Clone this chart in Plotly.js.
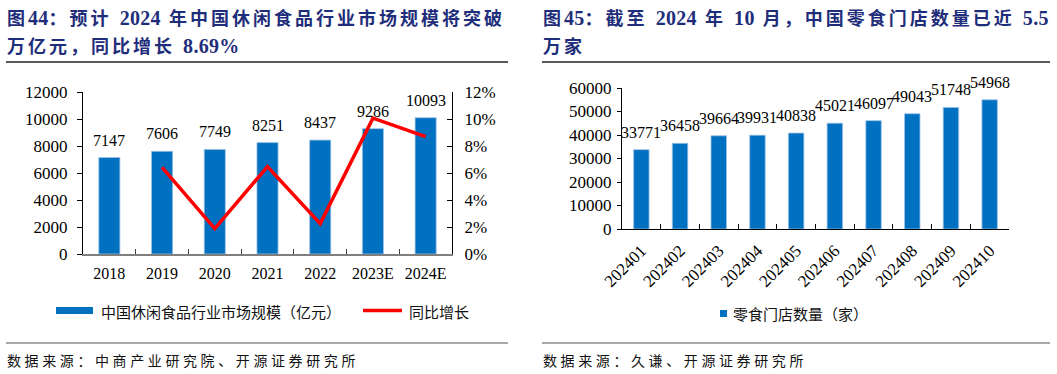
<!DOCTYPE html>
<html><head><meta charset="utf-8">
<script src="https://cdn.plot.ly/plotly-3.0.1.min.js"></script>
<style>
body{margin:0;background:#fff;}
#wrap{position:relative;width:1057px;height:374px;overflow:hidden;background:#fff;}
#chart{position:absolute;left:0;top:0;width:1057px;height:374px;}
.t{position:absolute;font-family:"Noto Sans CJK SC",sans-serif;font-weight:bold;color:#1F2E7A;font-size:18px;letter-spacing:3px;word-spacing:1px;white-space:pre;line-height:1;}
.t .n{font-family:"Liberation Serif",serif;font-size:20px;letter-spacing:0.3px;}
.s{position:absolute;font-family:"Noto Sans CJK SC",sans-serif;font-size:14px;letter-spacing:3.6px;white-space:pre;line-height:1;color:#111;}
</style></head>
<body>
<div id="wrap">
<div id="chart"></div>
<div class="t" id="t1a" style="left:7px;top:8px;"></div>
<div class="t" id="t1b" style="left:7px;top:36px;"></div>
<div class="t" id="t2a" style="left:543px;top:8px;"></div>
<div class="t" id="t2b" style="left:543px;top:36px;"></div>
<div class="s" id="s1" style="left:7px;top:353px;"></div>
<div class="s" id="s2" style="left:543px;top:353px;"></div>
</div>
<script>
// ---- data ----
const years = ['2018','2019','2020','2021','2022','2023E','2024E'];
const marketSize = [7147, 7606, 7749, 8251, 8437, 9286, 10093];
const growthYears = ['2019','2020','2021','2022','2023E','2024E'];
const yoyGrowth = [0.0642, 0.0188, 0.0648, 0.0225, 0.1006, 0.0869];
const months = ['202401','202402','202403','202404','202405','202406','202407','202408','202409','202410'];
const storeCount = [33771, 36458, 39664, 39931, 40838, 45021, 46097, 49043, 51748, 54968];
const seriesMarket = '中国休闲食品行业市场规模（亿元）';
const seriesGrowth = '同比增长';
const seriesStores = '零食门店数量（家）';
const title1 = ['图44：预计 2024 年中国休闲食品行业市场规模将突破', '万亿元，同比增长 8.69%'];
const title2 = ['图45：截至 2024 年 10 月，中国零食门店数量已近 5.5', '万家'];
const source1 = '数据来源：中商产业研究院、开源证券研究所';
const source2 = '数据来源：久谦、开源证券研究所';

function setTitle(id, txt) {
  const el = document.getElementById(id);
  txt.split(/([0-9.%]+)/).forEach(part => {
    if (!part) return;
    const sp = document.createElement('span');
    if (/^[0-9.%]+$/.test(part)) sp.className = 'n';
    sp.textContent = part;
    el.appendChild(sp);
  });
}
setTitle('t1a', title1[0]);
setTitle('t1b', title1[1]);
setTitle('t2a', title2[0]);
setTitle('t2b', title2[1]);
document.getElementById('s1').textContent = source1;
document.getElementById('s2').textContent = source2;

const W = 1057, H = 374;
const px = x => x / W;
const py = y => 1 - y / H;
const BLUE = '#0070C0';
const RED = '#FF0000';
const numFont = {family: 'Liberation Serif, serif', size: 16, color: '#000'};
const rotFont = {family: 'Liberation Serif, serif', size: 17, color: '#000'};
const axFont = {family: 'Liberation Serif, serif', size: 17, color: '#000'};
const cjkFont = {family: 'Noto Sans CJK SC, sans-serif', size: 15, color: '#111'};

const traces = [
  {type: 'bar', x: years, y: marketSize, name: seriesMarket, xaxis: 'x', yaxis: 'y',
   marker: {color: BLUE, line: {color: '#9DC3E6', width: 0.8}}, hoverinfo: 'skip'},
  {type: 'scatter', mode: 'lines', x: growthYears, y: yoyGrowth, name: seriesGrowth, xaxis: 'x', yaxis: 'y2',
   line: {color: RED, width: 3.5}, hoverinfo: 'skip'},
  {type: 'bar', x: months, y: storeCount, name: seriesStores, xaxis: 'x2', yaxis: 'y3',
   marker: {color: BLUE, line: {color: '#9DC3E6', width: 0.8}}, hoverinfo: 'skip'}
];

const annotations = [];
// on category axes annotation x is the category's serial index
years.forEach((c, i) => annotations.push({xref: 'x', yref: 'y', x: i, y: marketSize[i], text: String(marketSize[i]),
  showarrow: false, yanchor: 'bottom', yshift: 7, font: numFont}));
months.forEach((c, i) => annotations.push({xref: 'x2', yref: 'y3', x: i, y: storeCount[i], text: String(storeCount[i]),
  showarrow: false, yanchor: 'bottom', yshift: 7, font: numFont}));
// legends
annotations.push({xref: 'paper', yref: 'paper', x: px(99), y: py(311), xanchor: 'left', yanchor: 'middle', text: seriesMarket, showarrow: false, font: cjkFont});
annotations.push({xref: 'paper', yref: 'paper', x: px(407), y: py(311), xanchor: 'left', yanchor: 'middle', text: seriesGrowth, showarrow: false, font: cjkFont});
annotations.push({xref: 'paper', yref: 'paper', x: px(731), y: py(313), xanchor: 'left', yanchor: 'middle', text: seriesStores, showarrow: false, font: cjkFont});

const shapes = [
  {type: 'rect', xref: 'paper', yref: 'paper', x0: px(56), x1: px(93), y0: py(314), y1: py(307), fillcolor: BLUE, line: {width: 0}},
  {type: 'line', xref: 'paper', yref: 'paper', x0: px(363), x1: px(402), y0: py(310.5), y1: py(310.5), line: {color: RED, width: 3.5}},
  {type: 'rect', xref: 'paper', yref: 'paper', x0: px(720), x1: px(727), y0: py(317), y1: py(310), fillcolor: BLUE, line: {width: 0}},
  {type: 'line', xref: 'paper', yref: 'paper', x0: px(6), x1: px(508), y0: py(62), y1: py(62), line: {color: '#222', width: 1.5}},
  {type: 'line', xref: 'paper', yref: 'paper', x0: px(542), x1: px(1050), y0: py(62), y1: py(62), line: {color: '#222', width: 1.5}},
  {type: 'line', xref: 'paper', yref: 'paper', x0: px(6), x1: px(508), y0: py(343), y1: py(343), line: {color: '#555', width: 1.2}},
  {type: 'line', xref: 'paper', yref: 'paper', x0: px(542), x1: px(1050), y0: py(343), y1: py(343), line: {color: '#555', width: 1.2}}
];

const layout = {
  width: W, height: H, margin: {l: 0, r: 0, t: 0, b: 0},
  paper_bgcolor: '#fff', plot_bgcolor: 'rgba(0,0,0,0)',
  showlegend: false, bargap: 0.6,
  font: {family: 'Liberation Serif, serif', color: '#000'},
  xaxis: {domain: [px(83), px(452)], anchor: 'y', type: 'category', range: [-0.5, 6.5], showline: true, linecolor: '#7f7f7f', linewidth: 1.5,
    ticks: 'inside', tickson: 'boundaries', ticklen: 5, tickcolor: '#404040', tickfont: numFont,
    showgrid: false, zeroline: false, fixedrange: true, ticklabelstandoff: 4},
  yaxis: {domain: [py(254), py(92)], anchor: 'x', range: [0, 12000], dtick: 2000, tickformat: 'd', showline: true, linecolor: '#000', linewidth: 1,
    ticks: 'outside', ticklen: 5, tickcolor: '#000', tickfont: axFont, showgrid: false, zeroline: false, fixedrange: true, ticklabelstandoff: 6},
  yaxis2: {overlaying: 'y', side: 'right', anchor: 'x', range: [0, 0.12], dtick: 0.02, tickformat: '.0%', showline: true, linecolor: '#000', linewidth: 1,
    ticks: 'inside', ticklen: 5, tickcolor: '#000', tickfont: axFont, showgrid: false, zeroline: false, fixedrange: true, ticklabelstandoff: 8},
  xaxis2: {domain: [px(622), px(1009)], anchor: 'y3', type: 'category', range: [-0.5, 9.5], showline: true, linecolor: '#000', linewidth: 1,
    ticks: 'inside', tickson: 'boundaries', ticklen: 5, tickcolor: '#000', tickfont: rotFont, tickangle: -45,
    showgrid: false, zeroline: false, fixedrange: true, ticklabelstandoff: 4},
  yaxis3: {domain: [py(229), py(88)], anchor: 'x2', range: [0, 60000], dtick: 10000, tickformat: 'd', showline: true, linecolor: '#000', linewidth: 1,
    ticks: 'outside', ticklen: 4, tickcolor: '#000', tickfont: axFont, showgrid: false, zeroline: false, fixedrange: true, ticklabelstandoff: 2},
  annotations: annotations, shapes: shapes
};

Plotly.newPlot('chart', traces, layout, {displayModeBar: false, staticPlot: true});
</script>
</body></html>
